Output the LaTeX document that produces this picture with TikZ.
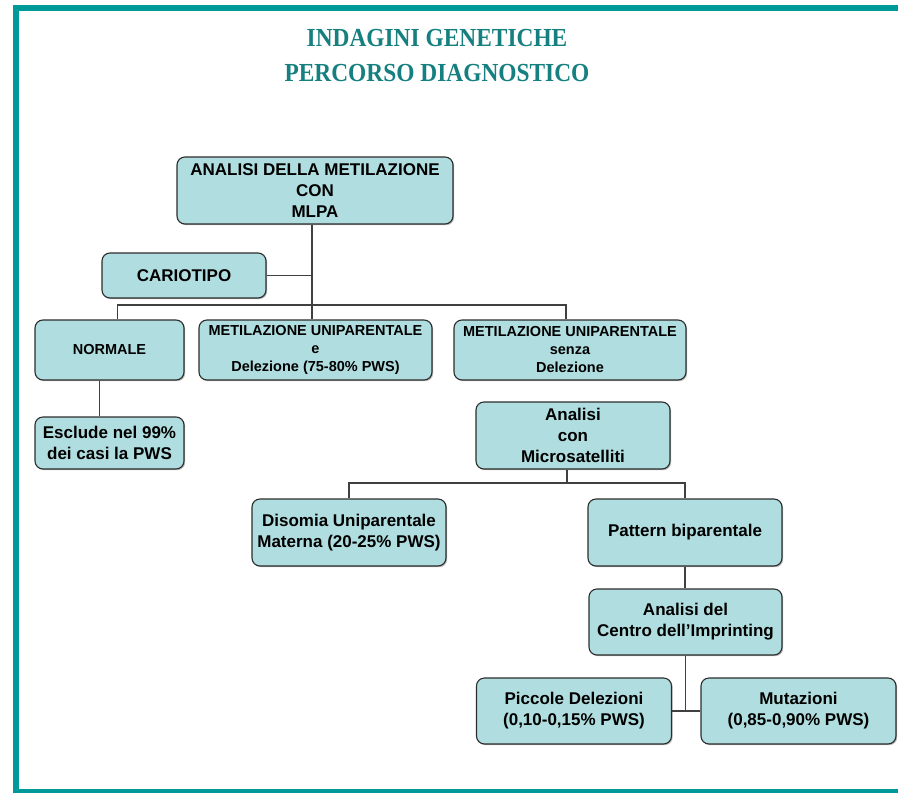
\documentclass[tikz,border=0pt]{standalone}
\usepackage{fontspec}
\setmainfont{Liberation Serif}
\setsansfont{Liberation Sans}
\usepackage{tikz}
\usetikzlibrary{positioning,shadows,calc}

\definecolor{frameteal}{RGB}{0,153,153}
\definecolor{titleteal}{RGB}{22,128,128}
\definecolor{boxfill}{RGB}{176,222,224}
\definecolor{boxline}{RGB}{45,45,45}
\definecolor{connline}{RGB}{64,64,64}

\begin{document}
\begin{tikzpicture}[
    x=1pt, y=-1pt,
    box/.style={rectangle, rounded corners=8pt, draw=boxline, line width=1.1pt, fill=boxfill,
        align=center, inner sep=2pt, font=\sffamily\bfseries\fontsize{17}{21}\selectfont,
        drop shadow={shadow xshift=1.2pt, shadow yshift=-1.2pt, fill=gray!70, opacity=0.8}},
    smallbox/.style={box, font=\sffamily\bfseries\fontsize{14.5}{18}\selectfont},
    conn/.style={draw=connline, line width=1.1pt},
    title/.style={font=\rmfamily\bfseries\fontsize{26}{30}\selectfont, text=titleteal, xscale=0.9}
]
    \useasboundingbox (0,0) rectangle (898,793);

    % Frame
    \fill[frameteal] (13,5) rectangle (898,11);
    \fill[frameteal] (13,5) rectangle (19,793);
    \fill[frameteal] (13,789) rectangle (898,793);

    % Title
    \node[title] (title1) at (437,38) {INDAGINI GENETICHE};
    \node[title] (title2) at (437,73) {PERCORSO DIAGNOSTICO};

    % First level
    \node[box, minimum width=276pt, minimum height=67pt] (metil) at (315,190.5)
        {ANALISI DELLA METILAZIONE\\CON\\MLPA};
    \node[box, minimum width=164pt, minimum height=45pt] (cario) at (184,275.5) {CARIOTIPO};

    % Second level
    \node[smallbox, minimum width=149pt, minimum height=60pt] (normale) at (109.5,350) {NORMALE};
    \node[smallbox, minimum width=233pt, minimum height=60pt] (uniDel) at (315.5,350)
        {METILAZIONE UNIPARENTALE\\e\\Delezione (75-80\% PWS)};
    \node[smallbox, minimum width=232pt, minimum height=60pt] (uniNoDel) at (570,350)
        {METILAZIONE UNIPARENTALE\\senza\\Delezione};

    \node[box, minimum width=149pt, minimum height=52pt] (esclude) at (109.5,443)
        {Esclude nel 99\%\\dei casi la PWS};
    \node[box, minimum width=194pt, minimum height=67pt] (micro) at (573,435.5)
        {Analisi\\con\\Microsatelliti};

    % Third level
    \node[box, minimum width=194pt, minimum height=67pt] (disomia) at (349,532.5)
        {Disomia Uniparentale\\Materna (20-25\% PWS)};
    \node[box, minimum width=194pt, minimum height=67pt] (pattern) at (685,532.5)
        {Pattern biparentale};
    \node[box, minimum width=193pt, minimum height=66pt] (centro) at (685.5,622)
        {Analisi del\\Centro dell’Imprinting};
    \node[box, minimum width=195pt, minimum height=66pt] (piccole) at (574,711)
        {Piccole Delezioni\\(0,10-0,15\% PWS)};
    \node[box, minimum width=195pt, minimum height=66pt] (mutaz) at (798.5,711)
        {Mutazioni\\(0,85-0,90\% PWS)};

    % Junctions
    \coordinate (bus1) at (312,305);
    \coordinate (bus2) at (567,483);
    \coordinate (bus3) at (685.5,711);

    % Connectors
    \draw[conn] (metil.south -| bus1) -- (bus1);
    \draw[conn] (cario.east) -- (cario.east -| bus1);
    \draw[conn] ([xshift=8pt]normale.north) |- (bus1) -| ([xshift=-4pt]uniNoDel.north);
    \draw[conn] (bus1) -- (bus1 |- uniDel.north);
    \draw[conn] ([xshift=-10pt]normale.south) -- ([xshift=-10pt]esclude.north);
    \draw[conn] (micro.south -| bus2) -- (bus2);
    \draw[conn] (disomia.north) |- (bus2) -| (pattern.north);
    \draw[conn] (pattern.south) -- (pattern.south |- centro.north);
    \draw[conn] (centro.south) -- (bus3);
    \draw[conn] (piccole.east) -- (mutaz.west);
\end{tikzpicture}
\end{document}
